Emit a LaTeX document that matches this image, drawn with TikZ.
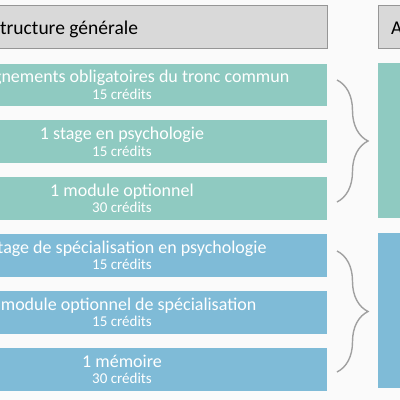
\documentclass[tikz,border=0pt]{standalone}
\usepackage{fontspec}
\setmainfont{Carlito}
\usepackage{xcolor}
\usepackage{tikz}
\usetikzlibrary{positioning, decorations.pathreplacing}
\definecolor{pagebg}{RGB}{250, 250, 250}
\definecolor{headgray}{RGB}{217, 217, 217}
\definecolor{headline}{RGB}{150, 150, 150}
\definecolor{tronccolor}{RGB}{143, 202, 193}
\definecolor{specblue}{RGB}{127, 187, 215}
\definecolor{bracegray}{RGB}{160, 160, 160}

\begin{document}
\begin{tikzpicture}[
    x=1pt, y=-1pt,
    header/.style={draw=headline, line width=0.9pt, fill=headgray,
                   minimum height=43pt, inner sep=0pt},
    headtext/.style={anchor=base west, inner sep=0pt,
                     font=\fontsize{19.5}{22}\selectfont},
    course/.style={fill=#1, text=white, minimum width=410pt,
                   minimum height=42.5pt, align=center, inner sep=0pt,
                   font=\fontsize{18}{16.5}\selectfont},
    big/.style={fill=#1, minimum width=60pt, minimum height=155pt, inner sep=0pt},
    group brace/.style={draw=bracegray, line width=1.4pt,
                        decorate, decoration={brace, amplitude=31pt}},
    node distance=14pt,
]
    \newcommand{\credits}[1]{\fontsize{15}{16.5}\selectfont #1 crédits}
    \useasboundingbox (0,0) rectangle (400,400);
    \clip (0,0) rectangle (400,400);
    \fill[pagebg] (0,0) rectangle (400,400);

    % column headers
    \node[header, minimum width=410pt] (structure) at (122,27) {};
    \node[headtext] (structuretext) at (-9,34.5) {Structure générale};
    \node[header, minimum width=60pt, anchor=west] (annee) at (378,27) {};
    \node[headtext] (anneetext) at (391,34.5) {A};

    % first group
    \node[course=tronccolor] (tronc) at (122,84.75)
        {Enseignements obligatoires du tronc commun\\ \credits{15}};
    \node[course=tronccolor, below=of tronc] (stage)
        {1 stage en psychologie\\ \credits{15}};
    \node[course=tronccolor, below=of stage] (option)
        {1 module optionnel\\ \credits{30}};

    % second group
    \node[course=specblue, below=of option] (stagespec)
        {1 stage de spécialisation en psychologie\\ \credits{15}};
    \node[course=specblue, below=of stagespec] (optionspec)
        {1 module optionnel de spécialisation\\ \credits{15}};
    \node[course=specblue, below=of optionspec] (memoire)
        {1 mémoire\\ \credits{30}};

    % right column
    \node[big=tronccolor, anchor=north west] (premiere) at (378,63) {};
    \node[big=specblue, anchor=north west] (deuxieme) at (378,233) {};

    % braces
    \coordinate (tronctop) at (337,80);
    \coordinate (troncbot) at (337,202);
    \coordinate (spectop) at (337,251);
    \coordinate (specbot) at (337,372);
    \draw[group brace] (tronctop) -- (troncbot);
    \draw[group brace] (spectop) -- (specbot);
\end{tikzpicture}
\end{document}
